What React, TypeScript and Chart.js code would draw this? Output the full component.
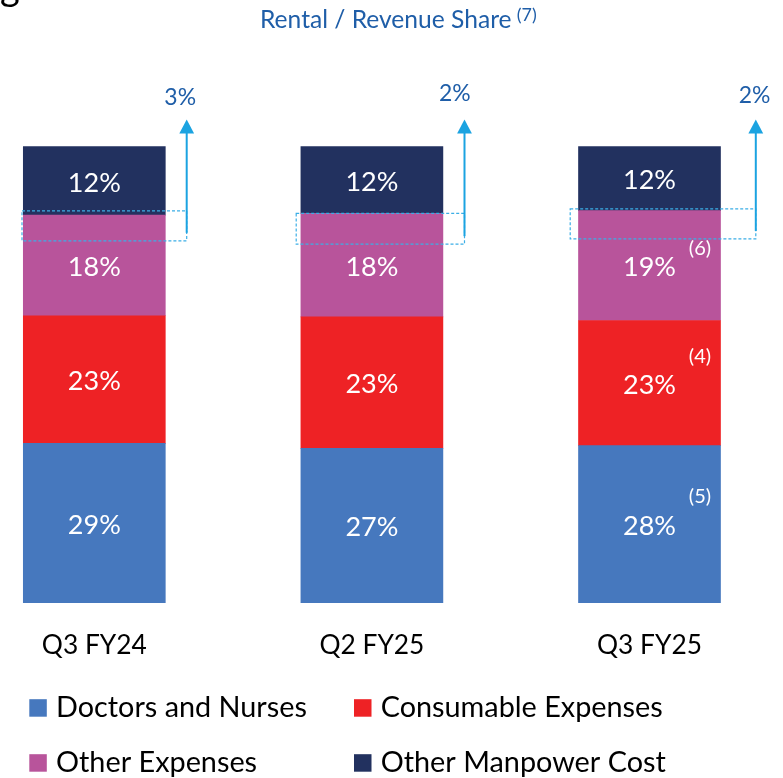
import React, { useEffect, useRef } from "react";
import { Chart, registerables } from "chart.js";

Chart.register(...registerables);

const W = 783;
const H = 778;

// ---------------- data ----------------
const categories = ["Q3 FY24", "Q2 FY25", "Q3 FY25"];
const seriesNames = ["Doctors and Nurses", "Consumable Expenses", "Other Expenses", "Other Manpower Cost"];
const doctorsNurses = [28.65, 27.75, 28.25];
const consumableExpenses = [22.95, 23.65, 22.5];
const otherExpenses = [18.1, 18.6, 19.75];
const otherManpowerCost = [12.3, 12.0, 11.5];
const doctorsNursesLabels = ["29%", "27%", "28%"];
const consumableLabels = ["23%", "23%", "23%"];
const otherExpensesLabels = ["18%", "18%", "19%"];
const otherManpowerLabels = ["12%", "12%", "12%"];
const rentalShareLabels = ["3%", "2%", "2%"];
const rentalTitle = "Rental / Revenue Share";
const rentalTitleNote = "(7)";
const footnotes = [
  { series: 2, index: 2, text: "(6)" },
  { series: 1, index: 2, text: "(4)" },
  { series: 0, index: 2, text: "(5)" },
];
const Y_MAX = 82;

// ---------------- styles / layout ----------------
const colors = ["#4678BE", "#EE2225", "#B8549B", "#22315F"];
const FONT = "Lato";
const CHART_LEFT = 94.3;
const CHART_RIGHT = 649.5;
const CHART_TOP = 146.7;
const CHART_BOTTOM = 602.7;
const BAR_THICKNESS = 142;

// annotation layout per bar (pixel offsets)
const boxLeftOff = [-1.3, -4.7, -8.3];
const boxRightOff = [21.4, 21.6, 35.3];
const boxTopOff = [-4.3, 0, -1.7];
const boxHeights = [30, 30.7, 30];
const pctDx = [-6.5, -9.6, -1.3];
const pctCenterY = [96.7, 92.8, 94.3];
const footDx = -20.5;
const footDy = [-18, -27, -28];

function fitSize(text: string, target: number) {
  const c = document.createElement("canvas").getContext("2d")!;
  c.font = `normal 100px ${FONT}`;
  const w = c.measureText(text).width;
  return (100 * target) / w;
}

export default function App() {
  const ref = useRef<HTMLCanvasElement | null>(null);

  useEffect(() => {
    const canvas = ref.current;
    if (!canvas) return;

    const labelSize = fitSize("12%", 53);
    const catSize = fitSize("Q3 FY24", 105);
    const legendSize = fitSize("Doctors and Nurses", 251);
    const titleSize = fitSize(rentalTitle, 251.7);
    const pctSize = fitSize("3%", 31.7);
    const footSize = fitSize("(6)", 22.3);
    const noteSize = fitSize(rentalTitleNote, 20);

    const catLine = catSize * 1.2;
    const catPad = 645.5 - CHART_BOTTOM - catLine / 2;
    // the x axis reserves its tick padding twice (above and below the labels)
    const bottomPad = H - (CHART_BOTTOM + 2 * catPad + catLine);

    const labelSets = [doctorsNursesLabels, consumableLabels, otherExpensesLabels, otherManpowerLabels];

    const overlay = {
      id: "overlay",
      afterDatasetsDraw(chart: any) {
        const ctx: CanvasRenderingContext2D = chart.ctx;
        const area = chart.chartArea;
        ctx.save();

        // segment labels
        ctx.fillStyle = "#FFFFFF";
        ctx.textAlign = "center";
        ctx.textBaseline = "alphabetic";
        ctx.font = `normal ${labelSize}px ${FONT}`;
        chart.data.datasets.forEach((_: any, di: number) => {
          const meta = chart.getDatasetMeta(di);
          meta.data.forEach((el: any, i: number) => {
            const p = el.getProps(["x", "y", "base"], true);
            const cy = (p.y + p.base) / 2;
            ctx.fillText(labelSets[di][i], p.x, cy + labelSize * 0.36 + 1);
          });
        });

        // footnotes
        ctx.font = `normal ${footSize}px ${FONT}`;
        footnotes.forEach((f, k) => {
          const el: any = chart.getDatasetMeta(f.series).data[f.index];
          const p = el.getProps(["x", "y", "base", "width"], true);
          const cy = (p.y + p.base) / 2 + footDy[k];
          ctx.fillText(f.text, p.x + p.width / 2 + footDx, cy + footSize * 0.36);
        });

        // rental boxes + arrows
        const navyMeta = chart.getDatasetMeta(3);
        navyMeta.data.forEach((el: any, i: number) => {
          const p = el.getProps(["x", "y", "base", "width"], true);
          const left = p.x - p.width / 2 + boxLeftOff[i];
          const right = p.x + p.width / 2 + boxRightOff[i];
          const top = p.base + boxTopOff[i];
          const bottom = top + boxHeights[i];
          ctx.setLineDash([3, 2]);
          ctx.strokeStyle = "#3BAEE6";
          ctx.lineWidth = 1.2;
          ctx.strokeRect(left, top, right - left, bottom - top);
          ctx.setLineDash([]);

          const tipY = area.top - 27.2;
          ctx.strokeStyle = "#1BA3E1";
          ctx.lineWidth = 2;
          ctx.beginPath();
          ctx.moveTo(right, bottom - 8);
          ctx.lineTo(right, tipY + 12);
          ctx.stroke();
          ctx.fillStyle = "#1BA3E1";
          ctx.beginPath();
          ctx.moveTo(right, tipY);
          ctx.lineTo(right - 7.4, tipY + 14);
          ctx.lineTo(right + 7.4, tipY + 14);
          ctx.closePath();
          ctx.fill();

          ctx.fillStyle = "#1F5EA8";
          ctx.font = `normal ${pctSize}px ${FONT}`;
          ctx.textAlign = "center";
          ctx.fillText(rentalShareLabels[i], right + pctDx[i], pctCenterY[i] + pctSize * 0.36);
        });

        // title
        ctx.textAlign = "left";
        ctx.fillStyle = "#1F5EA8";
        ctx.font = `normal ${titleSize}px ${FONT}`;
        ctx.fillText(rentalTitle, 260, 27.7);
        ctx.font = `normal ${noteSize}px ${FONT}`;
        ctx.fillText(rentalTitleNote, 516.7, 21);

        // cut-off heading fragment at top-left
        ctx.fillStyle = "#000000";
        ctx.font = `normal 38px ${FONT}`;
        ctx.fillText("g", 0, 0);

        // legend
        const colX = [29.3, 354];
        const boxBottoms = [716.7, 771.7];
        const bs = 17.5;
        ctx.font = `normal ${legendSize}px ${FONT}`;
        chart.data.datasets.forEach((ds: any, di: number) => {
          const c = di % 2;
          const r = Math.floor(di / 2);
          ctx.fillStyle = ds.backgroundColor;
          ctx.fillRect(colX[c], boxBottoms[r] - bs, bs, bs);
          ctx.fillStyle = "#000000";
          ctx.textAlign = "left";
          ctx.fillText(ds.label, colX[c] + 26.7, boxBottoms[r]);
        });

        ctx.restore();
      },
    };

    const values = [doctorsNurses, consumableExpenses, otherExpenses, otherManpowerCost];

    const chart = new Chart(canvas, {
      type: "bar",
      data: {
        labels: categories,
        datasets: values.map((v, i) => ({
          label: seriesNames[i],
          data: v,
          backgroundColor: colors[i],
          borderWidth: 0,
          barThickness: BAR_THICKNESS,
          clip: false as any,
        })),
      },
      options: {
        responsive: false,
        animation: false,
        events: [],
        layout: {
          padding: {
            left: CHART_LEFT,
            right: W - CHART_RIGHT,
            top: CHART_TOP,
            bottom: bottomPad,
          },
        },
        plugins: {
          legend: { display: false },
          title: { display: false },
          tooltip: { enabled: false },
        },
        scales: {
          x: {
            stacked: true,
            offset: false,
            grid: { display: false, drawTicks: false },
            border: { display: false },
            ticks: {
              color: "#000000",
              padding: catPad,
              font: { family: FONT, size: catSize, lineHeight: 1.2 },
              maxRotation: 0,
              autoSkip: false,
            },
          },
          y: {
            stacked: true,
            display: false,
            min: 0,
            max: Y_MAX,
          },
        },
      },
      plugins: [overlay],
    });

    return () => chart.destroy();
  }, []);

  return (
    <div style={{ position: "fixed", left: 0, top: 0, width: W, height: H, background: "#FFFFFF" }}>
      <canvas ref={ref} width={W} height={H} style={{ display: "block" }} />
    </div>
  );
}
